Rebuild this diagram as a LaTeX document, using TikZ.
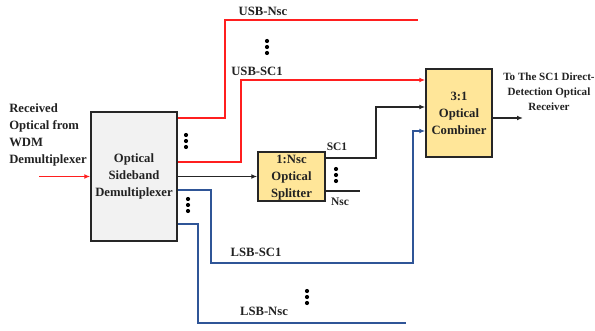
\documentclass[tikz,border=0pt]{standalone}
\usepackage{fontspec}
\setmainfont{Liberation Serif}
\usetikzlibrary{arrows.meta,calc}
\definecolor{rline}{HTML}{FF1F1F}
\definecolor{bline}{HTML}{2F5597}
\definecolor{ybox}{HTML}{FFE699}
\definecolor{gbox}{HTML}{F2F2F2}
\definecolor{txt}{HTML}{222222}
\begin{document}
\begin{tikzpicture}[x=0.75pt,y=-0.75pt,
  every node/.style={font=\fontsize{9.5}{12.8}\selectfont\bfseries, text=txt},
  blk/.style={draw=black!85, line width=1.1pt, align=center, inner sep=0pt},
  lab/.style={inner sep=0pt},
  smalllab/.style={inner sep=0pt, font=\fontsize{8.6}{10}\selectfont\bfseries},
  tip/.style={-{Latex[length=4.5pt,width=3.6pt]}},
  rl/.style={draw=rline, line width=1.1pt},
  bl/.style={draw=bline, line width=1.1pt},
  kl/.style={draw=black!85, line width=1.1pt},
  tdots/.pic={\fill[black] (0,-6) circle[radius=2.1] (0,0) circle[radius=2.1] (0,6) circle[radius=2.1];}
]
\useasboundingbox (0,0) rectangle (595,331);

% blocks
\node[blk, fill=gbox, minimum width=64.5pt, minimum height=96.75pt] (demux) at (134,176.5)
  {Optical\\Sideband\\Demultiplexer};
\node[blk, fill=ybox, minimum width=50.25pt, minimum height=36.75pt, text depth=0pt] (split) at (291.5,176.5)
  {1:Nsc\\Optical\\Splitter};
\node[blk, fill=ybox, minimum width=49.5pt, minimum height=66pt] (comb) at (459,113)
  {3:1\\Optical\\Combiner};

% free ends
\coordinate (inStart) at (39,176.5);
\coordinate (usbnEnd) at (418,20);
\coordinate (lsbnEnd) at (406,323);
\coordinate (nscEnd) at (360,191);
\coordinate (outEnd) at (523,118);

% input
\draw[rl, tip] (inStart) -- (demux.west);

% USB lines
\draw[rl] ($(demux.east)+(0,-58.5)$) -| (225,20) -- (usbnEnd);
\draw[rl, tip] ($(demux.east)+(0,-14.5)$) -| (241,80) -- ($(comb.west)+(0,-33)$);

% to splitter
\draw[kl, tip] (demux.east) -- (split.west);
\draw[kl, tip] ($(split.east)+(0,-18.5)$) -| (376,107) -- ($(comb.west)+(0,-6)$);
\draw[kl] ($(split.east)+(0,14.5)$) -- (nscEnd);

% LSB lines
\draw[bl, tip] ($(demux.east)+(0,13.5)$) -| (211,263) -| (413,131) -- ($(comb.west)+(0,18)$);
\draw[bl] ($(demux.east)+(0,47.5)$) -| (198,323) -- (lsbnEnd);

% output
\draw[kl, tip] ($(comb.east)+(0,5)$) -- (outEnd);

% labels
\node[lab, align=left, anchor=west] (rx) at (9,135) {Received\\Optical from\\WDM\\Demultiplexer};
\node[lab, align=center, font=\fontsize{8.3}{11.3}\selectfont\bfseries] (dest) at (549,92) {To The SC1 Direct-\\Detection Optical\\Receiver};
\node[lab] (lUSBN) at (263,11) {USB-Nsc};
\node[lab] (lUSB1) at (257,71) {USB-SC1};
\node[lab] (lLSB1) at (256,252) {LSB-SC1};
\node[lab] (lLSBN) at (264,311) {LSB-Nsc};
\node[smalllab] (lSC1) at (337,147) {SC1};
\node[smalllab] (lNsc) at (340,202) {Nsc};

% dots
\pic at (267,47) {tdots};
\pic at (186,141) {tdots};
\pic at (336,175) {tdots};
\pic at (188,205) {tdots};
\pic at (307,297) {tdots};
\end{tikzpicture}
\end{document}
